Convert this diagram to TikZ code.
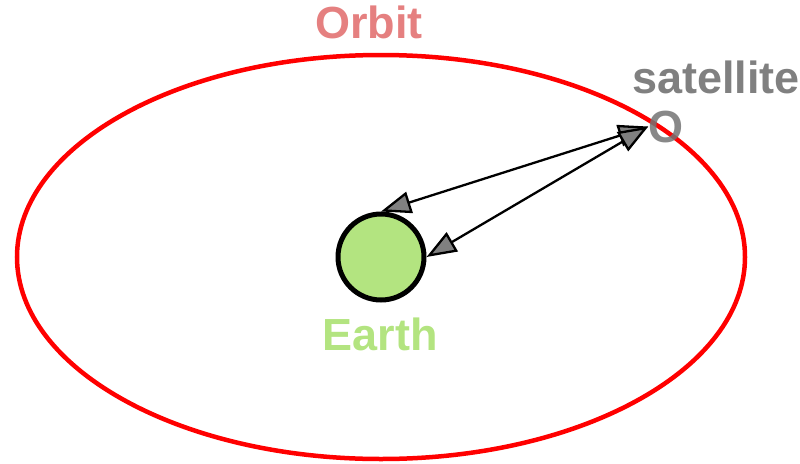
\documentclass[tikz,border=0pt]{standalone}
\usepackage{fontspec}
\setmainfont{Liberation Sans}
\usetikzlibrary{arrows.meta,positioning}
\definecolor{orbitred}{RGB}{255,0,0}
\definecolor{orbitlabel}{RGB}{229,128,128}
\definecolor{earthgreen}{RGB}{179,228,128}
\definecolor{satgray}{RGB}{128,128,128}

\begin{document}
\begin{tikzpicture}[
    x=1pt,y=-1pt,
    >={Triangle[length=30pt,width=22pt,fill=gray]},
    label/.style={font=\fontsize{45}{54}\selectfont\bfseries,inner sep=0pt,anchor=base},
    link/.style={<->,line width=2.3pt,black},
]
\useasboundingbox (0,0) rectangle (800,463);
% === Orbit ===
\draw[orbitred,line width=4.5pt] (381,257) ellipse [x radius=364,y radius=202];
\node[label,orbitlabel] (orbitlbl) at (369,38) {Orbit};
% === Earth ===
\node[circle,draw=black,line width=5pt,fill=earthgreen,minimum size=86pt,inner sep=0pt]
    (earth) at (381,257) {};
\node[label,earthgreen] (earthlbl) at (380,350) {Earth};
% === Satellite ===
\node[label,satgray!90!black,text opacity=0.85] (sat) at (666,142) {O};
\node[label,satgray] (satlbl) at (716,93) {satellite};
% === Links ===
\draw[link] (earth.north) -- (sat.west);
\draw[link] (earth.east) -- (sat.west);
\end{tikzpicture}
\end{document}
